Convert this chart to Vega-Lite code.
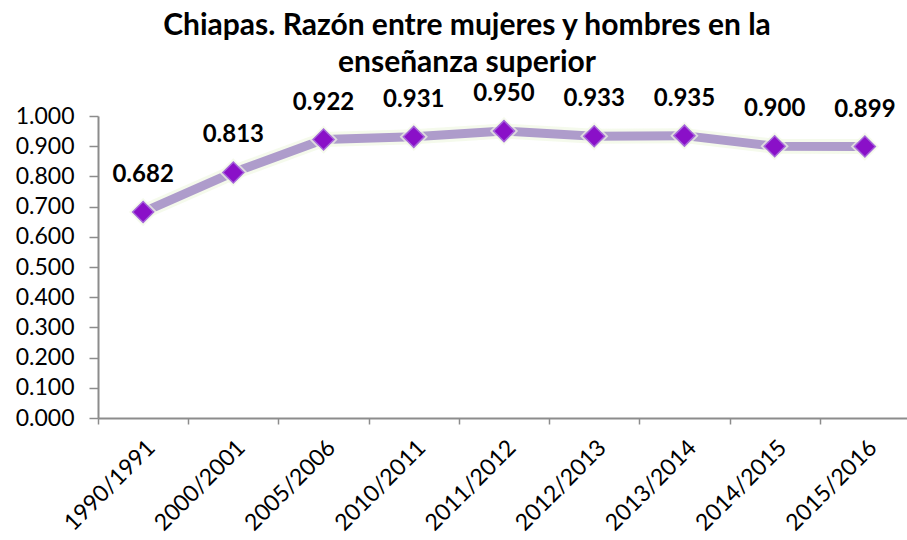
{
  "$schema": "https://vega.github.io/schema/vega-lite/v6.json",
  "width": 812,
  "height": 302,
  "autosize": {"type": "none"},
  "padding": {"left": 98, "top": 116, "right": 0, "bottom": 122},
  "background": "white",
  "title": {
    "text": ["Chiapas. Razón entre mujeres y hombres en la", "enseñanza superior"],
    "font": "Lato",
    "fontSize": 30,
    "fontWeight": "bold",
    "color": "#000000",
    "anchor": "middle",
    "dx": -37,
    "offset": 4,
    "lineHeight": 37
  },
  "data": {
    "values": [
      {"periodo": "1990/1991", "razon": 0.682},
      {"periodo": "2000/2001", "razon": 0.813},
      {"periodo": "2005/2006", "razon": 0.922},
      {"periodo": "2010/2011", "razon": 0.931},
      {"periodo": "2011/2012", "razon": 0.950},
      {"periodo": "2012/2013", "razon": 0.933},
      {"periodo": "2013/2014", "razon": 0.935},
      {"periodo": "2014/2015", "razon": 0.900},
      {"periodo": "2015/2016", "razon": 0.899}
    ]
  },
  "encoding": {
    "x": {
      "field": "periodo",
      "type": "ordinal",
      "sort": null,
      "bandPosition": 0.5,
      "scale": {"type": "band", "paddingInner": 0, "paddingOuter": 0},
      "axis": {
        "title": null,
        "labelAngle": -45,
        "labelFont": "Lato",
        "labelFontSize": 23,
        "labelColor": "#000000",
        "tickBand": "extent",
        "tickSize": 6,
        "labelPadding": 12,
        "domainColor": "#8c8c8c",
        "domainWidth": 2,
        "tickColor": "#8c8c8c",
        "tickWidth": 1.5,
        "grid": false
      }
    },
    "y": {
      "field": "razon",
      "type": "quantitative",
      "scale": {"domain": [0, 1], "nice": false},
      "axis": {
        "title": null,
        "values": [0, 0.1, 0.2, 0.3, 0.4, 0.5, 0.6, 0.7, 0.8, 0.9, 1.0],
        "format": ".3f",
        "labelFont": "Lato",
        "labelFontSize": 23,
        "labelColor": "#000000",
        "tickSize": 9,
        "labelPadding": 15,
        "domainColor": "#8c8c8c",
        "domainWidth": 2,
        "tickColor": "#8c8c8c",
        "tickWidth": 1.5,
        "grid": false
      }
    }
  },
  "layer": [
    {
      "mark": {"type": "line", "color": "#f1f8e4", "strokeWidth": 15, "opacity": 0.7, "strokeJoin": "round"}
    },
    {
      "mark": {"type": "line", "color": "#ae9ccb", "strokeWidth": 9, "strokeJoin": "round"}
    },
    {
      "mark": {"type": "point", "shape": "diamond", "size": 800, "filled": true, "color": "#f1f8e4", "opacity": 0.7}
    },
    {
      "mark": {"type": "point", "shape": "diamond", "size": 440, "filled": true, "fill": "#8a10c8", "stroke": "#a566da", "strokeWidth": 1.5, "opacity": 1}
    },
    {
      "mark": {"type": "text", "dy": -37, "font": "Lato", "fontSize": 24, "fontWeight": "bold", "color": "#000000"},
      "encoding": {"text": {"field": "razon", "type": "quantitative", "format": ".3f"}}
    }
  ],
  "config": {"view": {"stroke": null}}
}
